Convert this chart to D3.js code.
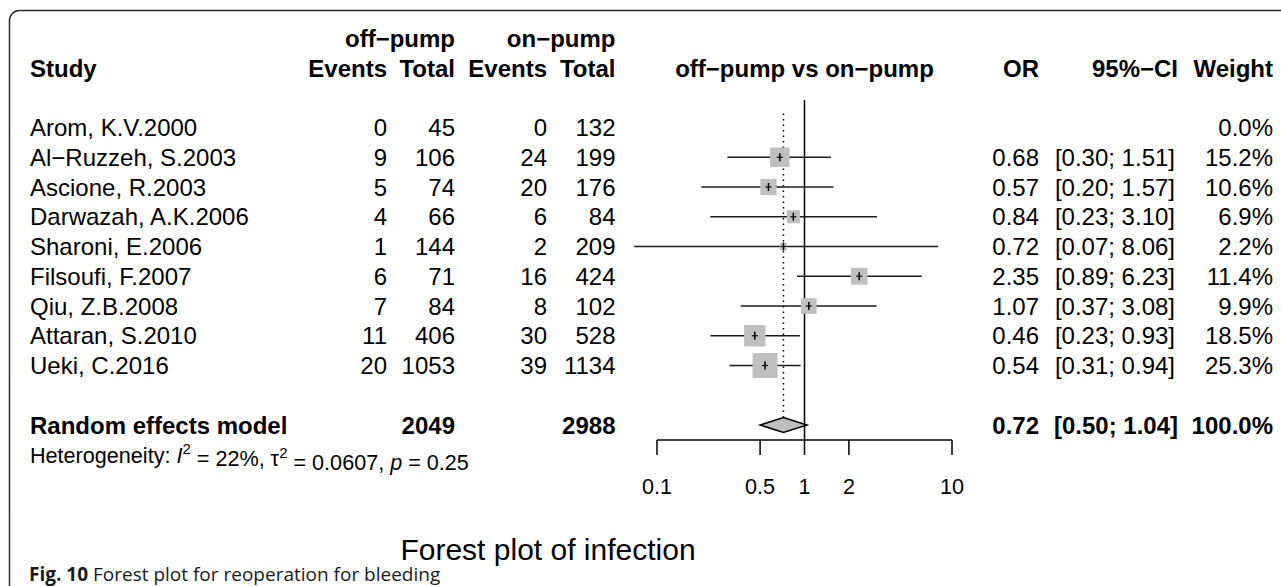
<!DOCTYPE html>
<html>
<head>
<meta charset="utf-8">
<script src="https://cdn.jsdelivr.net/npm/d3@7"></script>
<style>
  html, body { margin: 0; padding: 0; background: #fff; }
  svg { display: block; }
</style>
</head>
<body>
<svg id="chart" width="1281" height="586"></svg>
<script>
const studies = ['Arom, K.V.2000', 'Al\u2212Ruzzeh, S.2003', 'Ascione, R.2003', 'Darwazah, A.K.2006',
  'Sharoni, E.2006', 'Filsoufi, F.2007', 'Qiu, Z.B.2008', 'Attaran, S.2010', 'Ueki, C.2016'];
const eventsOff = [0, 9, 5, 4, 1, 6, 7, 11, 20];
const totalOff = [45, 106, 74, 66, 144, 71, 84, 406, 1053];
const eventsOn = [0, 24, 20, 6, 2, 16, 8, 30, 39];
const totalOn = [132, 199, 176, 84, 209, 424, 102, 528, 1134];
const oddsRatio = [null, 0.68, 0.57, 0.84, 0.72, 2.35, 1.07, 0.46, 0.54];
const ciLower = [null, 0.30, 0.20, 0.23, 0.07, 0.89, 0.37, 0.23, 0.31];
const ciUpper = [null, 1.51, 1.57, 3.10, 8.06, 6.23, 3.08, 0.93, 0.94];
const weights = [0.0, 15.2, 10.6, 6.9, 2.2, 11.4, 9.9, 18.5, 25.3];
const pooled = [0.72, 0.50, 1.04];
const pooledTotals = [2049, 2988];
const axisTicks = [0.1, 0.5, 1, 2, 10];

const FONT = '"Liberation Sans", Arial, Helvetica, sans-serif';
const BASE = 24;
const SMALL = 21.6;

const svg = d3.select('#chart');

// frame round the figure
svg.append('rect')
  .attr('x', 9.5).attr('y', 10.5)
  .attr('width', 1300).attr('height', 585)
  .attr('rx', 10)
  .attr('fill', 'none')
  .attr('stroke', '#2b2b2b')
  .attr('stroke-width', 1.5);

const rowY = r => 38.25 + r * 29.75;
const x = d3.scaleLog().domain([0.1, 10]).range([657, 952]);
const boxSize = d3.scaleSqrt().domain([0, d3.max(weights)]).range([0, 25]);

const cols = { study: 30, evOff: 387, totOff: 455, evOn: 547, totOn: 615.5, or: 1039, ci: 1175, w: 1273 };

function txt(xp, yp, s, opts = {}) {
  return svg.append('text')
    .attr('x', xp).attr('y', yp)
    .attr('dy', '0.36em')
    .attr('text-anchor', opts.anchor || 'start')
    .attr('font-family', FONT)
    .attr('font-size', opts.size || BASE)
    .attr('font-weight', opts.bold ? 'bold' : 'normal')
    .attr('fill', '#000')
    .text(s);
}

// header
txt(cols.totOff, rowY(0), 'off\u2212pump', { anchor: 'end', bold: true });
txt(cols.totOn, rowY(0), 'on\u2212pump', { anchor: 'end', bold: true });
txt(cols.study, rowY(1), 'Study', { bold: true });
txt(cols.evOff, rowY(1), 'Events', { anchor: 'end', bold: true });
txt(cols.totOff, rowY(1), 'Total', { anchor: 'end', bold: true });
txt(cols.evOn, rowY(1), 'Events', { anchor: 'end', bold: true });
txt(cols.totOn, rowY(1), 'Total', { anchor: 'end', bold: true });
txt(x(1), rowY(1), 'off\u2212pump vs on\u2212pump', { anchor: 'middle', bold: true });
txt(cols.or, rowY(1), 'OR', { anchor: 'end', bold: true });
txt(cols.ci + 3, rowY(1), '95%\u2212CI', { anchor: 'end', bold: true });
txt(cols.w, rowY(1), 'Weight', { anchor: 'end', bold: true });

// reference lines
const firstRow = 3, lastRow = 3 + studies.length - 1;
const pooledRow = lastRow + 2;
const axisY = 440;

svg.append('line')
  .attr('x1', x(1)).attr('x2', x(1))
  .attr('y1', 100).attr('y2', axisY)
  .attr('stroke', '#000').attr('stroke-width', 1.5);
svg.append('line')
  .attr('x1', x(pooled[0])).attr('x2', x(pooled[0]))
  .attr('y1', rowY(firstRow) - 14).attr('y2', rowY(pooledRow) - 8)
  .attr('stroke', '#000').attr('stroke-width', 1.5)
  .attr('stroke-dasharray', '1.5,4');

// study rows
studies.forEach((name, i) => {
  const y = rowY(firstRow + i);
  txt(cols.study, y, name);
  txt(cols.evOff, y, eventsOff[i], { anchor: 'end' });
  txt(cols.totOff, y, totalOff[i], { anchor: 'end' });
  txt(cols.evOn, y, eventsOn[i], { anchor: 'end' });
  txt(cols.totOn, y, totalOn[i], { anchor: 'end' });
  txt(cols.w, y, weights[i].toFixed(1) + '%', { anchor: 'end' });
  if (oddsRatio[i] == null) return;
  txt(cols.or, y, oddsRatio[i].toFixed(2), { anchor: 'end' });
  txt(cols.ci, y, `[${ciLower[i].toFixed(2)}; ${ciUpper[i].toFixed(2)}]`, { anchor: 'end' });

  svg.append('line')
    .attr('x1', x(ciLower[i])).attr('x2', x(ciUpper[i]))
    .attr('y1', y).attr('y2', y)
    .attr('stroke', '#1a1a1a').attr('stroke-width', 1.6);
  const s = boxSize(weights[i]);
  svg.append('rect')
    .attr('x', x(oddsRatio[i]) - s / 2).attr('y', y - s / 2)
    .attr('width', s).attr('height', s)
    .attr('fill', '#bfbfbf');
  svg.append('line')
    .attr('x1', x(oddsRatio[i])).attr('x2', x(oddsRatio[i]))
    .attr('y1', y - 4).attr('y2', y + 4)
    .attr('stroke', '#000').attr('stroke-width', 1.5);
  svg.append('line')
    .attr('x1', x(oddsRatio[i]) - 3).attr('x2', x(oddsRatio[i]) + 3)
    .attr('y1', y).attr('y2', y)
    .attr('stroke', '#000').attr('stroke-width', 1.2);
});

// pooled row
const py = rowY(pooledRow);
txt(cols.study, py, 'Random effects model', { bold: true });
txt(cols.totOff, py, pooledTotals[0], { anchor: 'end', bold: true });
txt(cols.totOn, py, pooledTotals[1], { anchor: 'end', bold: true });
txt(cols.or, py, pooled[0].toFixed(2), { anchor: 'end', bold: true });
txt(cols.ci + 3, py, `[${pooled[1].toFixed(2)}; ${pooled[2].toFixed(2)}]`, { anchor: 'end', bold: true });
txt(cols.w, py, '100.0%', { anchor: 'end', bold: true });

svg.append('polygon')
  .attr('points', [[x(pooled[1]), py], [x(pooled[0]), py - 7.5], [x(pooled[2]), py], [x(pooled[0]), py + 7.5]].join(' '))
  .attr('fill', '#bfbfbf')
  .attr('stroke', '#000').attr('stroke-width', 1.5);

// heterogeneity
const het = svg.append('text')
  .attr('x', cols.study).attr('y', rowY(pooledRow + 1))
  .attr('dy', '0.36em')
  .attr('font-family', FONT).attr('font-size', SMALL);
het.append('tspan').text('Heterogeneity: ');
het.append('tspan').attr('font-style', 'italic').text('I');
het.append('tspan').attr('font-size', 15).attr('dy', '-0.55em').text('2');
het.append('tspan').attr('dy', '0.55em').text(' = 22%, \u03c4');
het.append('tspan').attr('font-size', 15).attr('dy', '-0.55em').text('2');
het.append('tspan').attr('dy', '0.55em').text(' = 0.0607, ');
het.append('tspan').attr('font-style', 'italic').text('p');
het.append('tspan').text(' = 0.25');

// x axis
const axisG = svg.append('g').attr('transform', `translate(0,${axisY})`);
axisG.append('line')
  .attr('x1', x(0.1)).attr('x2', x(10))
  .attr('stroke', '#000').attr('stroke-width', 1.5);
axisG.selectAll('line.tick')
  .data(axisTicks)
  .enter()
  .append('line')
  .attr('class', 'tick')
  .attr('x1', d => x(d)).attr('x2', d => x(d))
  .attr('y1', 0).attr('y2', 15)
  .attr('stroke', '#000').attr('stroke-width', 1.5);
axisG.selectAll('text.tick')
  .data(axisTicks)
  .enter()
  .append('text')
  .attr('class', 'tick')
  .attr('x', d => x(d)).attr('y', 46)
  .attr('dy', '0.36em')
  .attr('text-anchor', 'middle')
  .attr('font-family', FONT).attr('font-size', SMALL)
  .text(d => d);

// title and caption
svg.append('text')
  .attr('x', 548).attr('y', 549)
  .attr('dy', '0.36em')
  .attr('text-anchor', 'middle')
  .attr('font-family', FONT).attr('font-size', 30)
  .text('Forest plot of infection');

const cap = svg.append('text')
  .attr('x', 29).attr('y', 574)
  .attr('dy', '0.36em')
  .attr('font-family', '"Open Sans", "Noto Sans", sans-serif').attr('font-size', 19)
  .attr('fill', '#1a1a1a');
cap.append('tspan').attr('font-weight', 'bold').text('Fig. 10');
cap.append('tspan').text(' Forest plot for reoperation for bleeding');
</script>
</body>
</html>
